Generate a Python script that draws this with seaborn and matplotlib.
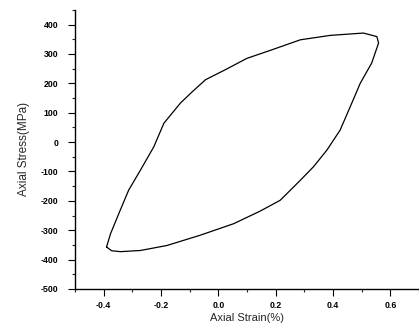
import matplotlib
matplotlib.use("Agg")
import matplotlib.pyplot as plt
import seaborn as sns
import pandas as pd
from matplotlib.ticker import MultipleLocator

# Loading (upper) branch: from lower-left tip to upper-right tip
upper_strain = [-0.390, -0.376, -0.347, -0.313, -0.272, -0.225, -0.190, -0.132,
                -0.090, -0.045, 0.024, 0.100, 0.181, 0.286, 0.390, 0.506, 0.553, 0.559]
upper_stress = [-357, -312, -243, -164, -96, -16, 64, 133,
                172, 212, 246, 285, 312, 348, 363, 371, 359, 337]
# Unloading (lower) branch: from upper-right tip back to lower-left tip
lower_strain = [0.559, 0.535, 0.495, 0.460, 0.425, 0.379, 0.332, 0.286, 0.216, 0.146,
                0.053, -0.063, -0.179, -0.272, -0.341, -0.372, -0.390]
lower_stress = [337, 269, 200, 120, 41, -27, -84, -130, -198, -235,
                -278, -317, -352, -369, -373, -370, -357]

x_ticks = [-0.4, -0.2, 0.0, 0.2, 0.4, 0.6]
x_ticklabels = ["-0.4", "-0.2", "0.0", "0.2", "0.4", "0.6"]
y_ticks = [400, 300, 200, 100, 0, -100, -200, -300, -400, -500]
y_ticklabels = ["400", "300", "200", "100", "0", "-100", "-200", "-300", "-400", "-500"]

strain = upper_strain + lower_strain
stress = upper_stress + lower_stress
df = pd.DataFrame({"strain": strain, "stress": stress, "order": range(len(strain))})

sns.set_style("ticks")
plt.rcParams["font.family"] = ["Liberation Sans", "DejaVu Sans"]

fig = plt.figure(figsize=(4.19, 3.28), dpi=100)
ax = fig.add_axes([0.179, 0.119, 0.821, 0.851])
sns.lineplot(data=df, x="strain", y="stress", sort=False, estimator=None,
             color="black", linewidth=0.9, ax=ax)

ax.set_xlim(-0.5, 0.7)
ax.set_ylim(-500, 450)
ax.set_xticks(x_ticks)
ax.set_xticklabels(x_ticklabels)
ax.set_yticks(y_ticks)
ax.set_yticklabels(y_ticklabels)
ax.xaxis.set_minor_locator(MultipleLocator(0.1))
ax.yaxis.set_minor_locator(MultipleLocator(50))
ax.tick_params(which="major", direction="out", length=5, width=0.8, labelsize=6.3,
               colors="black")
ax.tick_params(axis="y", which="major", pad=7)
ax.tick_params(axis="x", which="major", pad=4)
ax.tick_params(which="minor", direction="out", length=2.5, width=0.8)
for lbl in ax.get_xticklabels() + ax.get_yticklabels():
    lbl.set_fontweight("bold")

for s in ["top", "right"]:
    ax.spines[s].set_visible(False)
for s in ["left", "bottom"]:
    ax.spines[s].set_linewidth(1.0)
    ax.spines[s].set_color("black")

ax.set_xlabel("Axial Strain(%)", fontsize=8, labelpad=2)
ax.set_ylabel("Axial Stress(MPa)", fontsize=8.5, labelpad=8)

fig.savefig("out.png", dpi=100)
